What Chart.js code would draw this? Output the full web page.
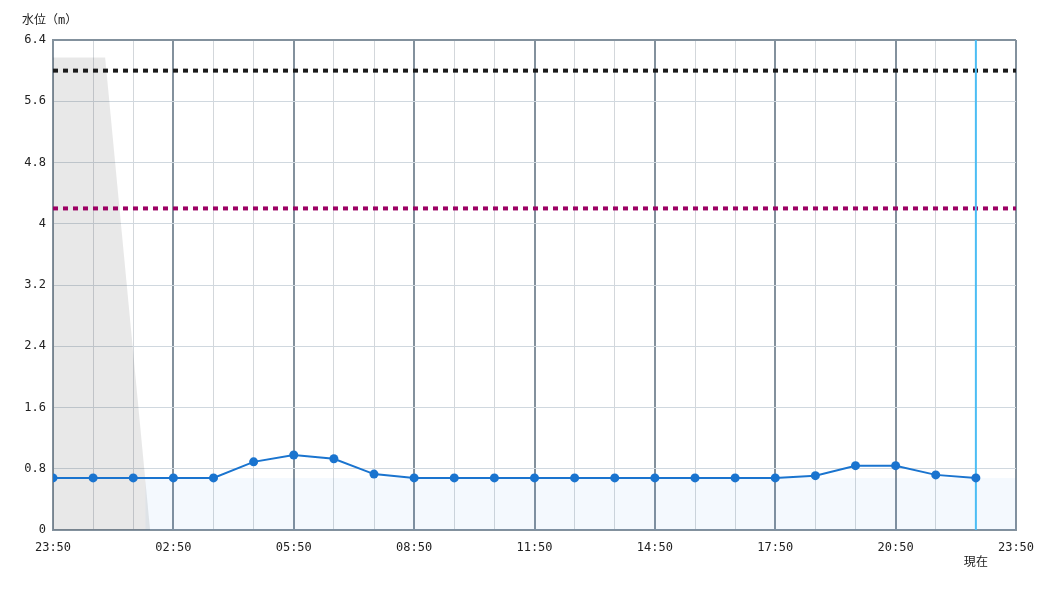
<!DOCTYPE html>
<html>
<head>
<meta charset="utf-8">
<script src="https://cdn.jsdelivr.net/npm/chart.js@4/dist/chart.umd.min.js"></script>
<style>
  html, body { margin: 0; padding: 0; background: #fff; }
  #wrap { width: 1050px; height: 600px; }
</style>
</head>
<body>
<div id="wrap"><canvas id="myChart" width="1050" height="600"></canvas></div>
<script>
// hourly readings, 23:50 -> 22:50 (hours after 23:50)
var timeLabels = ['23:50','00:50','01:50','02:50','03:50','04:50','05:50','06:50','07:50','08:50','09:50','10:50',
                  '11:50','12:50','13:50','14:50','15:50','16:50','17:50','18:50','19:50','20:50','21:50','22:50','23:50'];
var waterLevel = [0.68, 0.68, 0.68, 0.68, 0.68, 0.89, 0.98, 0.93, 0.73, 0.68, 0.68, 0.68,
                  0.68, 0.68, 0.68, 0.68, 0.68, 0.68, 0.68, 0.71, 0.84, 0.84, 0.72, 0.68];
var yTickLabels = ['0', '0.8', '1.6', '2.4', '3.2', '4', '4.8', '5.6', '6.4'];

var levelDanger = 6.0;     // black dotted
var levelWarning = 4.2;    // purple dotted
var levelNormal = 0.68;    // light blue band
var nowHour = 23;          // 現在
var grayHours = [0, 1.3, 2.42];
var grayValues = [6.17, 6.17, 0];
var bandStart = 2.3;       // band begins where the gray area ends

var monoFont = '"DejaVu Sans Mono", "Noto Sans CJK JP", monospace';

var levelPoints = waterLevel.map(function (v, i) { return { x: i, y: v }; });
var grayPoints = grayHours.map(function (h, i) { return { x: h, y: grayValues[i] }; });

function flat(v, from) { return [{ x: from || 0, y: v }, { x: 24, y: v }]; }

var titlePlugin = {
    id: 'yTitle',
    afterDraw: function (chart) {
        var ctx = chart.ctx;
        ctx.save();
        ctx.fillStyle = '#222';
        ctx.font = '12px ' + monoFont;
        ctx.textBaseline = 'middle';
        ctx.textAlign = 'left';
        ctx.fillText('水位（m）', chart.chartArea.left - 31, chart.chartArea.top - 19);
        ctx.restore();
    }
};

var ctx = document.getElementById('myChart').getContext('2d');
var myChart = new Chart(ctx, {
    type: 'line',
    data: {
        datasets: [
            {
                data: levelPoints,
                borderColor: '#1a74cf',
                backgroundColor: '#1a74cf',
                borderWidth: 2,
                pointRadius: 4.5,
                pointBorderWidth: 0,
                tension: 0,
                fill: false
            },
            {
                data: [{ x: nowHour, y: 0 }, { x: nowHour, y: 6.4 }],
                borderColor: '#4bbdf4',
                borderWidth: 2,
                pointRadius: 0,
                fill: false
            },
            {
                data: flat(levelDanger),
                borderColor: '#1a1a1a',
                borderWidth: 4,
                borderDash: [5, 5],
                pointRadius: 0,
                fill: false
            },
            {
                data: flat(levelWarning),
                borderColor: '#9c0063',
                borderWidth: 4,
                borderDash: [5, 5],
                pointRadius: 0,
                fill: false
            },
            {
                data: grayPoints,
                borderWidth: 0,
                borderColor: 'rgba(0,0,0,0)',
                backgroundColor: 'rgba(0,0,0,0.09)',
                pointRadius: 0,
                fill: 'origin'
            },
            {
                data: flat(levelNormal, bandStart),
                borderWidth: 0,
                borderColor: 'rgba(0,0,0,0)',
                backgroundColor: 'rgba(30,130,230,0.05)',
                pointRadius: 0,
                fill: 'origin'
            }
        ]
    },
    options: {
        responsive: false,
        animation: false,
        events: [],
        layout: { padding: { left: 0, right: 34, top: 40, bottom: 0 } },
        plugins: {
            legend: { display: false },
            tooltip: { enabled: false }
        },
        scales: {
            x: {
                type: 'linear',
                min: 0,
                max: 24,
                afterBuildTicks: function (scale) {
                    scale.ticks = timeLabels.map(function (t, i) { return { value: i }; });
                },
                afterFit: function (scale) { scale.height = 70; },
                ticks: {
                    autoSkip: false,
                    maxRotation: 0,
                    padding: 11,
                    color: '#222',
                    font: { family: monoFont, size: 12 },
                    callback: function (value, i) {
                        if (i === nowHour) return ['', '現在'];
                        return i % 3 === 0 ? timeLabels[i] : '';
                    }
                },
                grid: {
                    drawTicks: false,
                    color: function (c) { return c.index % 3 === 0 ? '#83919d' : '#d3d7db'; },
                    lineWidth: function (c) { return c.index % 3 === 0 ? 2 : 1; }
                },
                border: { color: '#83919d', width: 2 }
            },
            y: {
                min: 0,
                max: 6.4,
                afterBuildTicks: function (scale) {
                    scale.ticks = yTickLabels.map(function (t, i) { return { value: i * 0.8 }; });
                },
                afterFit: function (scale) { scale.width = 53; },
                ticks: {
                    padding: 7,
                    color: '#222',
                    font: { family: monoFont, size: 12 },
                    callback: function (value, i) { return yTickLabels[i]; }
                },
                grid: {
                    drawTicks: false,
                    color: function (c) { return c.index === yTickLabels.length - 1 ? '#83919d' : '#d0d8df'; },
                    lineWidth: function (c) { return c.index === yTickLabels.length - 1 ? 2 : 1; }
                },
                border: { color: '#83919d', width: 2 }
            }
        }
    },
    plugins: [titlePlugin]
});
</script>
</body>
</html>
